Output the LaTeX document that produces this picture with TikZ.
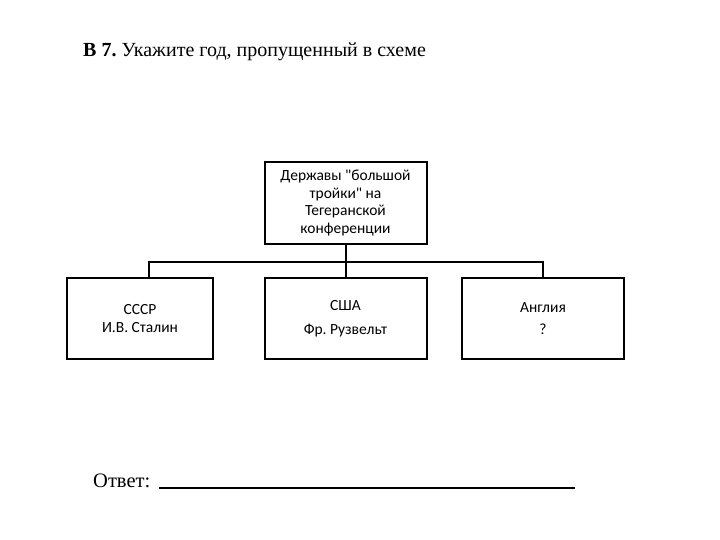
\documentclass[tikz,border=0pt]{standalone}
\usepackage{fontspec}
\setmainfont{Liberation Serif}
\newfontfamily\boxfont{Carlito}
\usetikzlibrary{positioning}
\frenchspacing

\begin{document}
\begin{tikzpicture}[x=1pt,y=-1pt,
    box/.style={draw, line width=2pt, minimum height=81pt, align=center,
      font=\boxfont\fontsize{15.5}{17.5}\selectfont, inner sep=0pt}]
    \useasboundingbox (0,0) rectangle (720,540);
    \node [anchor=base west, font=\fontsize{20}{22}\selectfont, inner sep=0pt] (title) at (83,57)
      {\textbf{В 7.} Укажите год, пропущенный в схеме};
    % top box and the three powers
    \node [box, minimum width=162pt] (top) at (345.5,203) {Державы "большой\\тройки" на\\Тегеранской\\конференции};
    \node [box, minimum width=146pt] (ussr) at (140,318.5) {СССР\\И.В. Сталин};
    \node [box, minimum width=162pt] (usa) at (345.5,318.5) {США\\[7pt]Фр. Рузвельт};
    \node [box, minimum width=162pt] (uk) at (543,318.5) {Англия\\[5pt]?};
    \coordinate (bus) at (345.5,262);
    \coordinate (lj) at (149,262);
    \coordinate (rj) at (543,262);
    \draw [line width=2pt] (top) -- (usa);
    \draw [line width=2pt] (lj |- ussr.north) -- (lj) -- (rj) -- (uk.north);
    % answer line
    \node [anchor=base west, font=\fontsize{20.5}{22}\selectfont, inner sep=0pt] (ans) at (93,487) {Ответ:};
    \coordinate (ansend) at (575,488);
    \draw [line width=1.2pt] (ans.base east) ++(9,1) -- (ansend);
\end{tikzpicture}
\end{document}
